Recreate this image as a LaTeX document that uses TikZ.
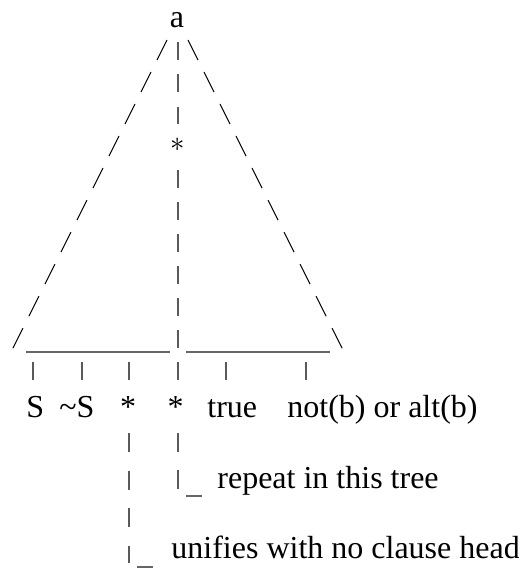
\documentclass[tikz,border=0pt]{standalone}
\usepackage{fontspec}
\setmainfont{Liberation Serif}
\usepackage{tikz}
\usetikzlibrary{calc}
\tikzset{
  lbl/.style={anchor=base west, inner sep=0, font=\fontsize{16}{16}\selectfont},
  slash/.style={black, line width=.55pt, dash pattern=on 11.2pt off 6.7pt},
  vbar/.style={black!65, line width=.8pt},
  uline/.style={black!60, line width=.7pt}
}
\begin{document}
\begin{tikzpicture}[x=.5pt,y=-.5pt]
\useasboundingbox (0,0) rectangle (519,569);
\node[lbl, anchor=base] (a) at (177,27) {a};
\node[inner sep=0] (mid) at (178,145) {\fontsize{14}{14}\selectfont$\ast$};
\coordinate (lb) at (11,352);
\coordinate (rb) at (344,352);
\coordinate (c2) at (178,380);
\draw[slash] ($(a.base)+(-10,13)$) -- (lb);
\draw[slash] ($(a.base)+(11,13)$) -- (rb);
\draw[vbar, dash pattern=on 9pt off 7.15pt] ($(a.base)+(1,15)$) -- ($(mid.center)+(0,-21)$);
\draw[vbar, dash pattern=on 9pt off 7pt] ($(mid.center)+(0,25)$) -- (c2);
\draw[uline] (26,352) -- (170,352);
\draw[uline] (186,352) -- (330,352);
\foreach \x in {33,82,129,226,306} {
 \draw[vbar] (\x,362) -- (\x,380);
}
\node[lbl] (s1) at (26,417) {S};
\node[lbl] (s2) at (59,417) {\textasciitilde S};
\node[lbl, anchor=base] (s3) at (128,417) {*};
\node[lbl, anchor=base] (s4) at (175.5,417) {*};
\node[lbl] (s5) at (207,417) {true};
\node[lbl] (s6) at (287,417) {not(b) or alt(b)};
\node[lbl] (rep) at (217,488) {repeat in this tree};
\node[lbl] (uni) at (171,558) {unifies with no clause head};
\coordinate (r1) at (178,490);
\coordinate (u1) at (129,563);
\draw[vbar, dash pattern=on 9.5pt off 9pt] ($(s4.base)+(2.5,16)$) -- (r1);
\draw[uline] ($(r1)+(8,6)$) -- ++(16,0);
\draw[vbar, dash pattern=on 9.5pt off 9.25pt] ($(s3.base)+(1,16)$) -- (u1);
\draw[uline] ($(u1)+(8,4)$) -- ++(16,0);
\end{tikzpicture}
\end{document}
